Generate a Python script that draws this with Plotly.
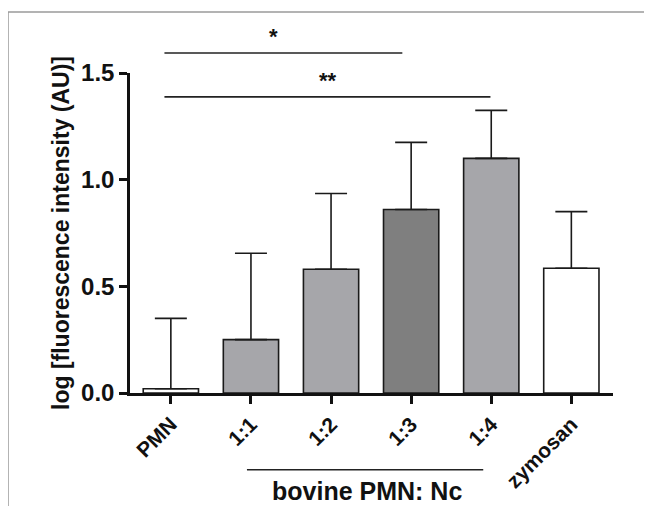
import plotly.graph_objects as go

categories = ["PMN", "1:1", "1:2", "1:3", "1:4", "zymosan"]
means = [0.02, 0.25, 0.58, 0.86, 1.10, 0.585]
sd_upper = [0.33, 0.405, 0.355, 0.315, 0.225, 0.265]
bar_colors = ["#ffffff", "#a6a6aa", "#a6a6aa", "#7f7f7f", "#a6a6aa", "#ffffff"]
y_ticks = [0.0, 0.5, 1.0, 1.5]
y_tick_text = ["0.0", "0.5", "1.0", "1.5"]

XMIN, XMAX = -0.51, 5.52
YMIN, YMAX = 0.0, 1.5
FONT = "Liberation Sans, Arial, sans-serif"

# page body has an 8px margin, so the figure is 8px smaller than the window
L, T, PW, PH = 122, 65, 483, 320
W, H = 644, 498

def px(i):
    return (i - XMIN) / (XMAX - XMIN)

def py(v):
    return (v - YMIN) / (YMAX - YMIN)

fig = go.Figure()
fig.add_trace(go.Bar(
    x=list(range(len(categories))), y=means, width=0.69,
    marker=dict(color=bar_colors, line=dict(color="#1a1a1a", width=1.6)),
    error_y=dict(type="data", symmetric=False, array=sd_upper,
                 arrayminus=[0] * len(means), color="#1a1a1a", thickness=1.6, width=16),
    cliponaxis=False,
))

shapes = []
shapes.append(dict(type="line", xref="paper", yref="paper", x0=px(-0.08), x1=px(2.89),
                   y0=py(1.594), y1=py(1.594), line=dict(color="#222", width=1.6)))
shapes.append(dict(type="line", xref="paper", yref="paper", x0=px(-0.08), x1=px(3.99),
                   y0=py(1.388), y1=py(1.388), line=dict(color="#222", width=1.6)))
shapes.append(dict(type="line", xref="paper", yref="paper", x0=px(0.95), x1=px(3.9),
                   y0=-0.24, y1=-0.24, line=dict(color="#222", width=1.6)))
# outer frame (gray)
fx = (0 - L) / PW
fy = (T + PH - 4) / PH
shapes.append(dict(type="line", xref="paper", yref="paper", x0=fx, x1=1.2,
                   y0=fy, y1=fy, line=dict(color="#9a9a9a", width=1.5)))
shapes.append(dict(type="line", xref="paper", yref="paper", x0=fx, x1=fx,
                   y0=fy, y1=-0.5, line=dict(color="#9a9a9a", width=1.5)))

annotations = [
    dict(text="*", xref="paper", yref="paper", x=px(1.20), y=py(1.594) + 0.005, yanchor="bottom",
         showarrow=False, font=dict(family=FONT, size=22, color="#111", weight="bold")),
    dict(text="**", xref="paper", yref="paper", x=px(1.96), y=py(1.388) + 0.005, yanchor="bottom",
         showarrow=False, font=dict(family=FONT, size=22, color="#111", weight="bold")),
    dict(text="bovine PMN: Nc", xref="paper", yref="paper", x=px(2.45), y=-0.305, yanchor="middle",
         showarrow=False, font=dict(family=FONT, size=25, color="#111", weight="bold")),
]

fig.update_layout(
    width=W, height=H,
    margin=dict(l=L, r=W - L - PW, t=T, b=H - T - PH),
    paper_bgcolor="white", plot_bgcolor="white",
    showlegend=False,
    shapes=shapes, annotations=annotations,
    xaxis=dict(range=[XMIN, XMAX], tickmode="array", tickvals=list(range(len(categories))),
               ticktext=categories, tickangle=-45, showgrid=False, zeroline=False,
               showline=True, linecolor="#111", linewidth=2.5,
               ticks="outside", ticklen=8, tickwidth=2.5, tickcolor="#111",
               tickfont=dict(family=FONT, size=21, color="#111", weight="bold")),
    yaxis=dict(range=[YMIN, YMAX], tickmode="array", tickvals=y_ticks, ticktext=y_tick_text,
               showgrid=False, zeroline=False, showline=True, linecolor="#111", linewidth=2.5,
               ticks="outside", ticklen=8, tickwidth=2.5, tickcolor="#111",
               tickfont=dict(family=FONT, size=24, color="#111", weight="bold"),
               title=dict(text="log [fluorescence intensity (AU)]", standoff=6,
                          font=dict(family=FONT, size=23, color="#111", weight="bold"))),
)

fig.write_html("out.html")
